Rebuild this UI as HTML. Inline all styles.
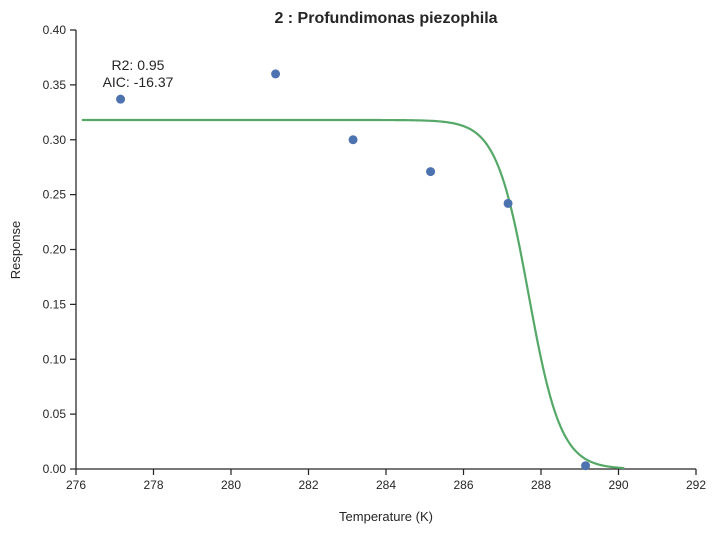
<!DOCTYPE html>
<html><head><meta charset="utf-8"><style>
body{margin:0;background:#fff;}
svg text{font-family:"Liberation Sans",Arial,sans-serif;fill:#262626;}
</style></head><body>
<svg id="chart" width="717" height="533"></svg>
<script>
const xTicks=[276,278,280,282,284,286,288,290,292];
const yTicks=[0.00,0.05,0.10,0.15,0.20,0.25,0.30,0.35,0.40];
const tempK=[277.15,281.15,283.15,285.15,287.15,289.15];
const response=[0.337,0.360,0.300,0.271,0.242,0.003];
const fitPlateau=[0.318];
const fitSlope=[2.4];
const fitMid=[287.68];
const fitRange=[276.15,290.15];
const NS="http://www.w3.org/2000/svg";
const svg=document.getElementById('chart');
const X0=76,X1=696,Y0=469,Y1=30;
const sx=v=>X0+(v-276)/(292-276)*(X1-X0);
const sy=v=>Y0-(v-0)/(0.4-0)*(Y0-Y1);
function mk(t,a,txt){const e=document.createElementNS(NS,t);for(const k in a)e.setAttribute(k,a[k]);if(txt!==undefined)e.textContent=txt;svg.appendChild(e);return e;}
let e;
e=mk('line',{x1:X0,y1:Y1,x2:X0,y2:Y0,stroke:'#262626','stroke-width':1.25});


e=mk('line',{x1:X0,y1:Y0,x2:X1,y2:Y0,stroke:'#262626','stroke-width':1.25});


xTicks.forEach(t=>{
 e=mk('line',{x1:sx(t),y1:Y0,x2:sx(t),y2:Y0+6,stroke:'#262626','stroke-width':1.25});
 
 
 e=mk('text',{x:sx(t),y:Y0+20,'text-anchor':'middle','font-size':12},String(t));
 
 
});
yTicks.forEach(t=>{
 e=mk('line',{x1:X0-6,y1:sy(t),x2:X0,y2:sy(t),stroke:'#262626','stroke-width':1.25});
 
 
 e=mk('text',{x:X0-10,y:sy(t)+4,'text-anchor':'end','font-size':12},t.toFixed(2));
 
 
});
let d='';
for(let i=0;i<=280;i++){const x=fitRange[0]+(fitRange[1]-fitRange[0])*i/280;const y=fitPlateau[0]/(1+Math.exp(fitSlope[0]*(x-fitMid[0])));d+=(i?'L':'M')+sx(x).toFixed(2)+','+sy(y).toFixed(2);}
e=mk('path',{d:d,fill:'none',stroke:'#55a868','stroke-width':2.2});


tempK.forEach((t,i)=>{
 e=mk('circle',{cx:sx(t),cy:sy(response[i]),r:4.5,fill:'#4c72b0'});
 
 
});
e=mk('text',{x:138,y:70,'text-anchor':'middle','font-size':14},'R2: 0.95');


e=mk('text',{x:138,y:87,'text-anchor':'middle','font-size':14},'AIC: -16.37');


e=mk('text',{x:386,y:23,'text-anchor':'middle','font-size':16,'font-weight':'bold'},'2 : Profundimonas piezophila');


e=mk('text',{x:386,y:521,'text-anchor':'middle','font-size':13},'Temperature (K)');


e=mk('text',{x:20,y:250,'text-anchor':'middle','font-size':13,transform:'rotate(-90 20 250)'},'Response');


</script>
</body></html>
